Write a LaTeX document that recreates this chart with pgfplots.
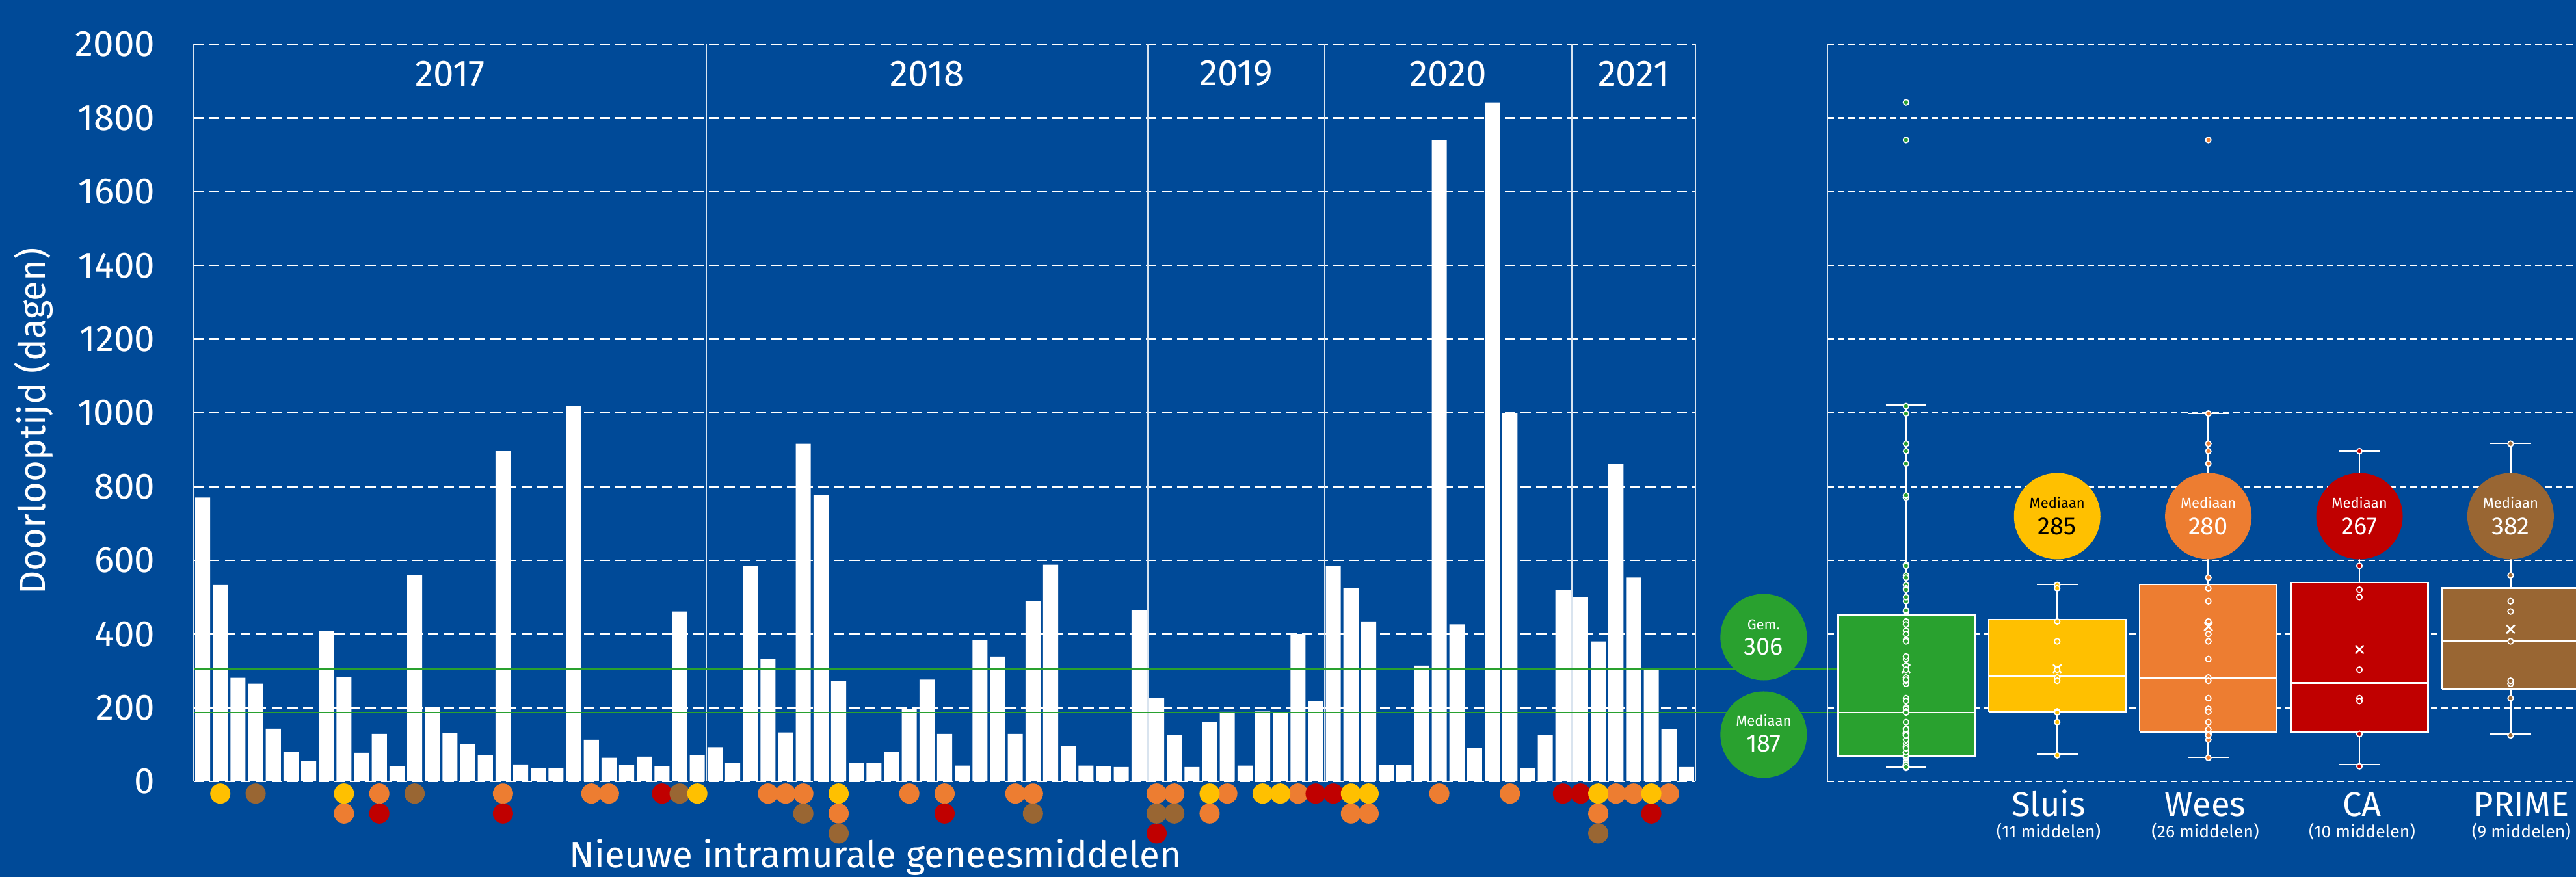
\documentclass[border=0pt]{standalone}
\usepackage{pgfplots}
\pgfplotsset{compat=1.18}
\usepackage{pgfplotstable}
\usepackage{fontspec}
\setmainfont{Fira Sans}
\definecolor{bg}{HTML}{004A98}
\definecolor{cgreen}{HTML}{29A12F}
\definecolor{cyellow}{HTML}{FFC000}
\definecolor{corange}{HTML}{ED7D31}
\definecolor{cred}{HTML}{C00000}
\definecolor{cbrown}{HTML}{996633}
\colorlet{sepline}{white!85!bg}

\pgfplotstableread{
i v
1 770
2 533
3 281
4 265
5 143
6 79
7 56
8 409
9 282
10 78
11 129
12 41
13 559
14 201
15 131
16 102
17 71
18 896
19 46
20 37
21 37
22 1018
23 113
24 64
25 44
26 67
27 41
28 461
29 71
30 93
31 50
32 585
33 332
34 133
35 916
36 776
37 273
38 50
39 50
40 79
41 197
42 276
43 129
44 43
45 384
46 339
47 129
48 489
49 588
50 95
51 43
52 41
53 39
54 464
55 226
56 125
57 39
58 161
59 189
60 43
61 190
62 187
63 400
64 218
65 585
66 524
67 434
68 45
69 45
70 314
71 1740
72 426
73 90
74 1842
75 998
76 37
77 125
78 520
79 500
80 380
81 862
82 553
83 303
84 141
85 39
}\bardata

\newcommand{\bigf}{\fontsize{11.3}{13}\selectfont}
\newcommand{\catf}{\fontsize{10.5}{12}\selectfont}
\newcommand{\subf}{\fontsize{5.3}{6}\selectfont}
\newcommand{\smallf}{\fontsize{4.4}{5}\selectfont}
\newcommand{\numf}{\fontsize{7.6}{9}\selectfont}

\begin{document}
\begin{tikzpicture}
\fill[bg] (0,0) rectangle (792.2pt,269.8pt);
\useasboundingbox (0,0) rectangle (792.2pt,269.8pt);

% ---------------- left panel: bars ----------------
\begin{axis}[
  at={(59.6pt,29.4pt)}, anchor=south west, scale only axis,
  width=461.8pt, height=226.8pt,
  xmin=0.5, xmax=85.5, ymin=0, ymax=2000,
  ytick={0,200,...,2000}, xtick=\empty,
  ymajorgrids,
  major grid style={white, dash pattern=on 3.1pt off 1.7pt, line width=0.5pt},
  axis line style={draw=none},
  major tick length=0pt,
  /pgf/number format/1000 sep={},
  /pgf/number format/assume math mode=true,
  yticklabel style={white, font=\bigf, xshift=-8.4pt},
  clip=false,
  ylabel={Doorlooptijd (dagen)},
  ylabel style={white, font=\bigf, at={(axis description cs:-0.1065,0.4885)}, anchor=center},
  xlabel={Nieuwe intramurale geneesmiddelen},
  xlabel style={white, font=\bigf, at={(axis description cs:0.4539,-0.1170)}, anchor=base},
]
\addplot[ybar, bar width=0.85, fill=white, draw=none] table[x=i, y=v] {\bardata};

% borders and year separators
\addplot[sepline, line width=0.4pt, no marks] coordinates {(0.5,0) (0.5,2000)};
\addplot[sepline, line width=0.4pt, no marks] coordinates {(29.5,0) (29.5,2000)};
\addplot[sepline, line width=0.4pt, no marks] coordinates {(54.5,0) (54.5,2000)};
\addplot[sepline, line width=0.4pt, no marks] coordinates {(64.5,0) (64.5,2000)};
\addplot[sepline, line width=0.4pt, no marks] coordinates {(78.5,0) (78.5,2000)};
\addplot[sepline, line width=0.4pt, no marks] coordinates {(85.5,0) (85.5,2000)};

% mean and median lines
\addplot[cgreen, line width=0.45pt, no marks] coordinates {(0.5,306) (93.5,306)};
\addplot[cgreen, line width=0.45pt, no marks] coordinates {(0.5,187) (93.5,187)};

% category dots under bars
\addplot[only marks, mark=*, mark size=2.9pt, corange, mark options={draw=none, fill=corange}] coordinates {
(9,-87) (11,-33) (18,-33) (23,-33) (24,-33) (33,-33) (34,-33) (35,-33) (37,-87) (41,-33)
(43,-33) (47,-33) (48,-33) (55,-33) (56,-33) (58,-87) (59,-33) (63,-33) (66,-87) (67,-87)
(71,-33) (75,-33) (80,-87) (81,-33) (82,-33) (84,-33)};
\addplot[only marks, mark=*, mark size=2.9pt, cred, mark options={draw=none, fill=cred}] coordinates {
(11,-87) (18,-87) (27,-33) (43,-87) (55,-141) (64,-33) (65,-33) (78,-33) (79,-33) (83,-87)};
\addplot[only marks, mark=*, mark size=2.9pt, cbrown, mark options={draw=none, fill=cbrown}] coordinates {
(4,-33) (13,-33) (28,-33) (35,-87) (37,-141) (48,-87) (55,-87) (56,-87) (80,-141)};
\addplot[only marks, mark=*, mark size=2.9pt, cyellow, mark options={draw=none, fill=cyellow}] coordinates {
(2,-33) (9,-33) (29,-33) (37,-33) (58,-33) (61,-33) (62,-33) (66,-33) (67,-33) (80,-33) (83,-33)};

% year labels
\node[white, font=\bigf] at (axis cs:15,1920) {2017};
\node[white, font=\bigf] at (axis cs:42,1920) {2018};
\node[white, font=\bigf] at (axis cs:59.5,1920) {2019};
\node[white, font=\bigf] at (axis cs:71.5,1920) {2020};
\node[white, font=\bigf] at (axis cs:82,1920) {2021};

% mean / median badges
\node[circle, fill=cgreen, minimum size=26.6pt, inner sep=0pt] at (axis cs:89.36,391.5) {};
\node[white, anchor=base, font=\smallf, yshift=2.4pt] at (axis cs:89.36,391.5) {Gem.};
\node[white, anchor=base, font=\numf, yshift=-5.4pt] at (axis cs:89.36,391.5) {306};
\node[circle, fill=cgreen, minimum size=26.6pt, inner sep=0pt] at (axis cs:89.36,127) {};
\node[white, anchor=base, font=\smallf, yshift=2.6pt] at (axis cs:89.36,127) {Mediaan};
\node[white, anchor=base, font=\numf, yshift=-5.4pt] at (axis cs:89.36,127) {187};
\end{axis}

% ---------------- right panel: box plots ----------------
\begin{axis}[
  at={(562pt,29.4pt)}, anchor=south west, scale only axis,
  width=230.2pt, height=226.8pt,
  xmin=0.48, xmax=5.433, ymin=0, ymax=2000,
  ytick={0,200,...,2000}, yticklabels={}, xtick=\empty,
  ymajorgrids,
  major grid style={white, dash pattern=on 1.9pt off 1.3pt, line width=0.45pt},
  axis line style={draw=none},
  major tick length=0pt,
  unbounded coords=jump,
  clip mode=individual,
]
\addplot[sepline, line width=0.4pt, no marks] coordinates {(0.48,0) (0.48,2000)};

% boxes: (lower quartile, upper quartile), median, whiskers
\addplot[fill=cgreen, draw=white, line width=0.5pt, no marks] coordinates {(0.546,70) (1.454,70) (1.454,452) (0.546,452) (0.546,70)};
\addplot[white, line width=0.5pt, no marks] coordinates {(0.546,187) (1.454,187) (nan,nan) (1,452) (1,1020) (nan,nan) (0.865,1020) (1.135,1020) (nan,nan) (1,70) (1,40) (nan,nan) (0.865,40) (1.135,40)};

\addplot[fill=cyellow, draw=white, line width=0.5pt, no marks] coordinates {(1.546,188) (2.454,188) (2.454,439) (1.546,439) (1.546,188)};
\addplot[white, line width=0.5pt, no marks] coordinates {(1.546,285) (2.454,285) (nan,nan) (2,439) (2,534) (nan,nan) (1.865,534) (2.135,534) (nan,nan) (2,188) (2,74) (nan,nan) (1.865,74) (2.135,74)};

\addplot[fill=corange, draw=white, line width=0.5pt, no marks] coordinates {(2.546,135) (3.454,135) (3.454,534) (2.546,534) (2.546,135)};
\addplot[white, line width=0.5pt, no marks] coordinates {(2.546,280) (3.454,280) (nan,nan) (3,534) (3,998) (nan,nan) (2.865,998) (3.135,998) (nan,nan) (3,135) (3,65) (nan,nan) (2.865,65) (3.135,65)};

\addplot[fill=cred, draw=white, line width=0.5pt, no marks] coordinates {(3.546,133) (4.454,133) (4.454,540) (3.546,540) (3.546,133)};
\addplot[white, line width=0.5pt, no marks] coordinates {(3.546,267) (4.454,267) (nan,nan) (4,540) (4,897) (nan,nan) (3.865,897) (4.135,897) (nan,nan) (4,133) (4,46) (nan,nan) (3.865,46) (4.135,46)};

\addplot[fill=cbrown, draw=white, line width=0.5pt, no marks] coordinates {(4.546,250) (5.454,250) (5.454,525) (4.546,525) (4.546,250)};
\addplot[white, line width=0.5pt, no marks] coordinates {(4.546,382) (5.454,382) (nan,nan) (5,525) (5,917) (nan,nan) (4.865,917) (5.135,917) (nan,nan) (5,250) (5,129) (nan,nan) (4.865,129) (5.135,129)};

% means
\addplot[only marks, mark=x, mark size=1.8pt, white, line width=0.5pt] coordinates {(1,306) (2,306) (3,420) (4,358) (5,413)};

% inner points
\addplot[only marks, mark=*, mark size=0.85pt, mark options={fill=cgreen, draw=white, line width=0.35pt}] table[x expr=1, y=v] {\bardata};
\addplot[only marks, mark=*, mark size=0.85pt, mark options={fill=cyellow, draw=white, line width=0.35pt}] coordinates {
(2,533) (2,282) (2,71) (2,273) (2,161) (2,190) (2,187) (2,524) (2,434) (2,380) (2,303)};
\addplot[only marks, mark=*, mark size=0.85pt, mark options={fill=corange, draw=white, line width=0.35pt}] coordinates {
(3,282) (3,129) (3,896) (3,113) (3,64) (3,332) (3,133) (3,916) (3,273) (3,197) (3,129) (3,129) (3,489)
(3,226) (3,125) (3,161) (3,189) (3,400) (3,524) (3,434) (3,1740) (3,998) (3,380) (3,862) (3,553) (3,141)};
\addplot[only marks, mark=*, mark size=0.85pt, mark options={fill=cred, draw=white, line width=0.35pt}] coordinates {
(4,129) (4,896) (4,41) (4,129) (4,226) (4,218) (4,585) (4,520) (4,500) (4,303)};
\addplot[only marks, mark=*, mark size=0.85pt, mark options={fill=cbrown, draw=white, line width=0.35pt}] coordinates {
(5,265) (5,559) (5,461) (5,916) (5,273) (5,489) (5,226) (5,125) (5,380)};

% median badges
\node[circle, fill=cyellow, minimum size=26.6pt, inner sep=0pt] at (axis cs:2,719.6) {};
\node[black, anchor=base, font=\smallf, yshift=2.4pt] at (axis cs:2,719.6) {Mediaan};
\node[black, anchor=base, font=\numf, yshift=-5.8pt] at (axis cs:2,719.6) {285};
\node[circle, fill=corange, minimum size=26.6pt, inner sep=0pt] at (axis cs:3,719.6) {};
\node[white, anchor=base, font=\smallf, yshift=2.4pt] at (axis cs:3,719.6) {Mediaan};
\node[white, anchor=base, font=\numf, yshift=-5.8pt] at (axis cs:3,719.6) {280};
\node[circle, fill=cred, minimum size=26.6pt, inner sep=0pt] at (axis cs:4,719.6) {};
\node[white, anchor=base, font=\smallf, yshift=2.4pt] at (axis cs:4,719.6) {Mediaan};
\node[white, anchor=base, font=\numf, yshift=-5.8pt] at (axis cs:4,719.6) {267};
\node[circle, fill=cbrown, minimum size=26.6pt, inner sep=0pt] at (axis cs:5,719.6) {};
\node[white, anchor=base, font=\smallf, yshift=2.4pt] at (axis cs:5,719.6) {Mediaan};
\node[white, anchor=base, font=\numf, yshift=-5.8pt] at (axis cs:5,719.6) {382};

% category labels
\node[white, anchor=base, font=\catf] at (axis cs:1.943,-95.2) {Sluis};
\node[white, anchor=base, font=\subf] at (axis cs:1.943,-151.7) {(11 middelen)};
\node[white, anchor=base, font=\catf] at (axis cs:2.980,-95.2) {Wees};
\node[white, anchor=base, font=\subf] at (axis cs:2.980,-151.7) {(26 middelen)};
\node[white, anchor=base, font=\catf] at (axis cs:4.017,-95.2) {CA};
\node[white, anchor=base, font=\subf] at (axis cs:4.017,-151.7) {(10 middelen)};
\node[white, anchor=base, font=\catf] at (axis cs:5.071,-95.2) {PRIME};
\node[white, anchor=base, font=\subf] at (axis cs:5.071,-151.7) {(9 middelen)};
\end{axis}
\end{tikzpicture}
\end{document}
